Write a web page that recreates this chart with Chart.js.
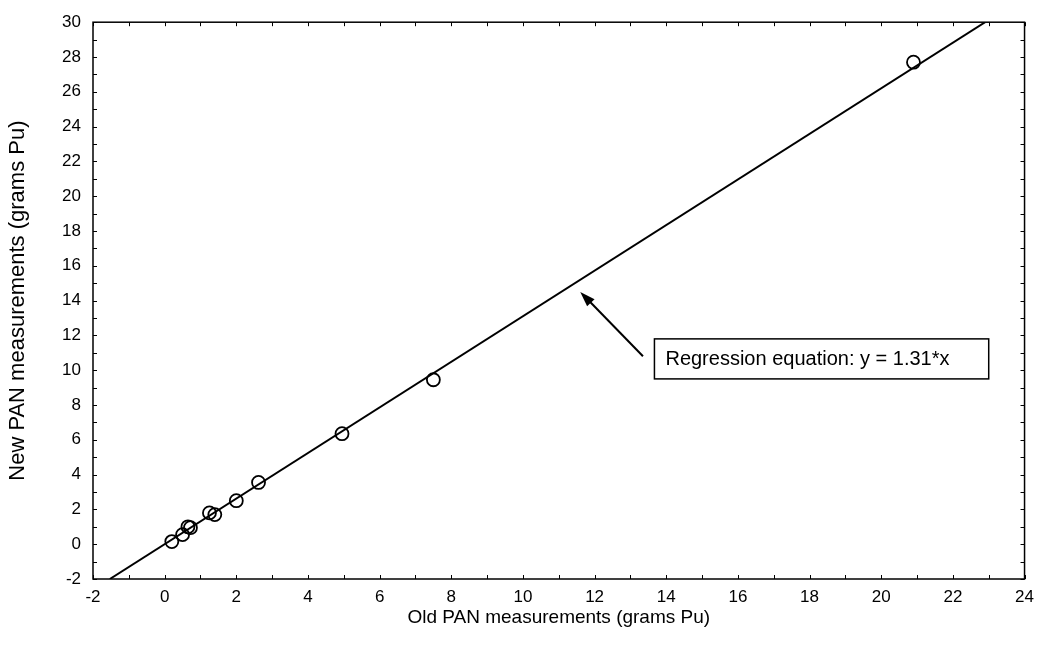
<!DOCTYPE html>
<html>
<head>
<meta charset="utf-8">
<script src="https://cdn.jsdelivr.net/npm/chart.js@4/dist/chart.umd.min.js"></script>
<style>
  body { margin: 0; background: #fff; }
  canvas { display: block; }
</style>
</head>
<body>
<canvas id="chart" width="1042" height="657"></canvas>
<script>
/* ===== Data ===== */
const oldPan = [0.2, 0.5, 0.65, 0.72, 1.25, 1.4, 2.0, 2.62, 4.95, 7.5, 20.9];
const newPan = [0.15, 0.55, 1.0, 0.95, 1.8, 1.7, 2.5, 3.55, 6.35, 9.45, 27.7];

// regression line y = 1.31*x, end points where it leaves the frame
const regX = [-1.53, 22.9];
const regY = [-2, 30];

const xTicks = [-2, 0, 2, 4, 6, 8, 10, 12, 14, 16, 18, 20, 22, 24];
const yTicks = [-2, 0, 2, 4, 6, 8, 10, 12, 14, 16, 18, 20, 22, 24, 26, 28, 30];

const xTitle = "Old PAN measurements (grams Pu)";
const yTitle = "New PAN measurements (grams Pu)";
const noteText = "Regression equation: y = 1.31*x";

// arrow (tail -> tip) and note box corners, in data units
const arrowFrom = [13.35, 10.8];
const arrowTo = [11.6, 14.5];
const noteFrom = [13.67, 11.8];
const noteTo = [23.0, 9.5];

const FONT = "'Liberation Sans', Arial, sans-serif";

/* ===== Frame, inward ticks, arrow, note ===== */
const framePlugin = {
  id: "frame",
  afterDatasetsDraw(chart) {
    const { ctx, chartArea: a, scales: { x, y } } = chart;
    ctx.save();
    ctx.strokeStyle = "#000";
    ctx.lineWidth = 1.5;
    ctx.strokeRect(a.left, a.top, a.right - a.left, a.bottom - a.top);

    ctx.lineWidth = 1;
    ctx.beginPath();
    for (let v = xTicks[0]; v <= xTicks[xTicks.length - 1]; v++) {
      const px = Math.round(x.getPixelForValue(v)) + 0.5;
      ctx.moveTo(px, a.bottom); ctx.lineTo(px, a.bottom - 4);
      ctx.moveTo(px, a.top); ctx.lineTo(px, a.top + 4);
    }
    for (let v = yTicks[0]; v <= yTicks[yTicks.length - 1]; v++) {
      const py = Math.round(y.getPixelForValue(v)) + 0.5;
      ctx.moveTo(a.left, py); ctx.lineTo(a.left + 4, py);
      ctx.moveTo(a.right, py); ctx.lineTo(a.right - 4, py);
    }
    ctx.stroke();

    // arrow
    const x0 = x.getPixelForValue(arrowFrom[0]), y0 = y.getPixelForValue(arrowFrom[1]);
    const x1 = x.getPixelForValue(arrowTo[0]), y1 = y.getPixelForValue(arrowTo[1]);
    const ang = Math.atan2(y1 - y0, x1 - x0);
    const head = 16;
    ctx.lineWidth = 2;
    ctx.beginPath();
    ctx.moveTo(x0, y0);
    ctx.lineTo(x1 - Math.cos(ang) * head * 0.8, y1 - Math.sin(ang) * head * 0.8);
    ctx.stroke();
    ctx.beginPath();
    ctx.moveTo(x1, y1);
    ctx.lineTo(x1 - head * Math.cos(ang - 0.33), y1 - head * Math.sin(ang - 0.33));
    ctx.lineTo(x1 - head * Math.cos(ang + 0.33), y1 - head * Math.sin(ang + 0.33));
    ctx.closePath();
    ctx.fillStyle = "#000";
    ctx.fill();

    // note box
    const bx = x.getPixelForValue(noteFrom[0]), by = y.getPixelForValue(noteFrom[1]);
    const bx2 = x.getPixelForValue(noteTo[0]), by2 = y.getPixelForValue(noteTo[1]);
    ctx.fillStyle = "#fff";
    ctx.fillRect(bx, by, bx2 - bx, by2 - by);
    ctx.lineWidth = 1.5;
    ctx.strokeRect(bx, by, bx2 - bx, by2 - by);
    ctx.font = "20px " + FONT;
    ctx.fillStyle = "#000";
    ctx.textBaseline = "middle";
    ctx.fillText(noteText, bx + 11, (by + by2) / 2 + 1);
    ctx.restore();
  }
};

/* ===== Chart ===== */
new Chart(document.getElementById("chart"), {
  type: "scatter",
  data: {
    datasets: [
      {
        label: "Measurements",
        data: oldPan.map((v, i) => ({ x: v, y: newPan[i] })),
        pointStyle: "circle",
        pointRadius: 6.5,
        pointBorderWidth: 1.8,
        pointBorderColor: "#000",
        pointBackgroundColor: "rgba(255,255,255,0)",
        showLine: false
      },
      {
        label: "Regression",
        data: regX.map((v, i) => ({ x: v, y: regY[i] })),
        showLine: true,
        borderColor: "#000",
        borderWidth: 2,
        pointRadius: 0
      }
    ]
  },
  options: {
    responsive: false,
    animation: false,
    layout: { padding: { top: 14, right: 12, left: 0, bottom: 0 } },
    plugins: {
      legend: { display: false },
      tooltip: { enabled: false }
    },
    scales: {
      x: {
        type: "linear",
        min: -2,
        max: 24,
        afterBuildTicks: s => { s.ticks = xTicks.map(v => ({ value: v })); },
        afterFit: s => { s.height = 657 - 579; },
        grid: { display: false, drawTicks: false },
        border: { display: false },
        ticks: { color: "#000", padding: 8, font: { family: FONT, size: 17 }, maxRotation: 0 },
        title: { display: true, text: xTitle, color: "#000", font: { family: FONT, size: 19 }, padding: { top: 0, bottom: 28 } }
      },
      y: {
        type: "linear",
        min: -2,
        max: 30,
        afterBuildTicks: s => { s.ticks = yTicks.map(v => ({ value: v })); },
        afterFit: s => { s.width = 93; },
        grid: { display: false, drawTicks: false },
        border: { display: false },
        ticks: { color: "#000", padding: 12, font: { family: FONT, size: 17 } },
        title: { display: true, text: yTitle, color: "#000", font: { family: FONT, size: 22 }, padding: { top: 5, bottom: 0 } }
      }
    }
  },
  plugins: [framePlugin]
});
</script>
</body>
</html>
